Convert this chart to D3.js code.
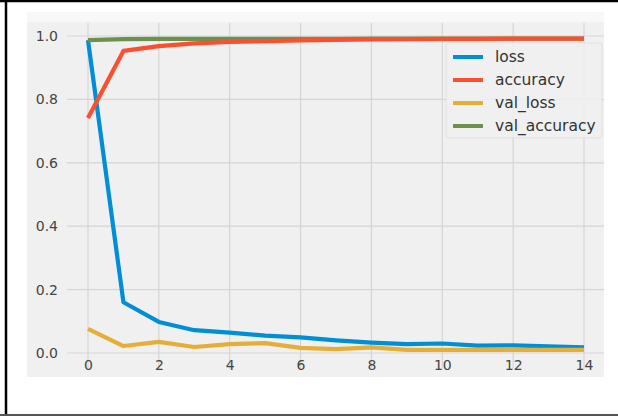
<!DOCTYPE html>
<html>
<head>
<meta charset="utf-8">
<script src="https://cdn.jsdelivr.net/npm/d3@7"></script>
<style>
  body { margin: 0; background: #fff; }
  svg { display: block; font-family: "DejaVu Sans", sans-serif; }
</style>
</head>
<body>
<div id="chart"></div>
<script>
// training history
var epochs = [0, 1, 2, 3, 4, 5, 6, 7, 8, 9, 10, 11, 12, 13, 14];
var loss = [0.987, 0.16, 0.098, 0.072, 0.064, 0.055, 0.049, 0.04, 0.033, 0.028, 0.03, 0.023, 0.024, 0.021, 0.018];
var accuracy = [0.741, 0.953, 0.968, 0.977, 0.981, 0.984, 0.986, 0.988, 0.989, 0.99, 0.991, 0.991, 0.992, 0.992, 0.992];
var valLoss = [0.076, 0.022, 0.035, 0.019, 0.028, 0.031, 0.016, 0.012, 0.018, 0.01, 0.01, 0.01, 0.01, 0.01, 0.01];
var valAccuracy = [0.987, 0.99, 0.991, 0.991, 0.991, 0.991, 0.991, 0.991, 0.992, 0.992, 0.992, 0.992, 0.992, 0.992, 0.992];
var seriesNames = ["loss", "accuracy", "val_loss", "val_accuracy"];
var seriesColors = ["#008fd5", "#fc4f30", "#e5ae38", "#6d904f"];
var xTicks = [0, 2, 4, 6, 8, 10, 12, 14];
var yTicks = [0.0, 0.2, 0.4, 0.6, 0.8, 1.0];

var W = 618, H = 416;
var svg = d3.select("#chart").append("svg")
    .attr("width", W)
    .attr("height", H);

// outer frame of the screenshot
svg.append("rect").attr("x", 0).attr("y", 0).attr("width", W).attr("height", H).attr("fill", "#fff");
svg.append("rect").attr("x", 27).attr("y", 12).attr("width", 577).attr("height", 10).attr("fill", "#f8f8f8");
svg.append("rect").attr("x", 27).attr("y", 22).attr("width", 577).attr("height", 355).attr("fill", "#f0f0f0");
svg.append("line").attr("x1", 0).attr("x2", W).attr("y1", 1).attr("y2", 1).attr("stroke", "#000").attr("stroke-width", 2.5);
svg.append("line").attr("x1", 6).attr("x2", 6).attr("y1", 0).attr("y2", H).attr("stroke", "#000").attr("stroke-width", 2.5);
svg.append("line").attr("x1", 0).attr("x2", W).attr("y1", 415).attr("y2", 415).attr("stroke", "#555").attr("stroke-width", 2);

// scales
var x = d3.scaleLinear().domain([0, 14]).range([88, 584]);
var y = d3.scaleLinear().domain([0, 1]).range([353, 36]);
var plotLeft = 67, plotRight = 604, plotTop = 23, plotBottom = 369;

// grid
var g = svg.append("g");
g.selectAll(".hgrid").data(yTicks).enter().append("line")
    .attr("x1", plotLeft).attr("x2", plotRight)
    .attr("y1", function(d) { return y(d); })
    .attr("y2", function(d) { return y(d); })
    .attr("stroke", "#d5d5d5").attr("stroke-width", 1.2);
g.selectAll(".vgrid").data(xTicks).enter().append("line")
    .attr("x1", function(d) { return x(d); })
    .attr("x2", function(d) { return x(d); })
    .attr("y1", plotTop).attr("y2", plotBottom)
    .attr("stroke", "#d5d5d5").attr("stroke-width", 1.2);

// axes (labels only, no spines)
var yAxis = svg.append("g")
    .attr("transform", "translate(" + plotLeft + ",0)")
    .call(d3.axisLeft(y).tickValues(yTicks).tickFormat(d3.format(".1f")).tickSize(0).tickPadding(9));
var xAxis = svg.append("g")
    .attr("transform", "translate(0," + 358 + ")")
    .call(d3.axisBottom(x).tickValues(xTicks).tickSize(0).tickPadding(2));
[xAxis, yAxis].forEach(function(a) {
    a.select(".domain").remove();
    a.selectAll("text").attr("fill", "#444").style("font-size", "14px").style("font-family", "DejaVu Sans, sans-serif");
});

// lines (val_accuracy sits under accuracy, as in the picture)
var data = [loss, accuracy, valLoss, valAccuracy];
var drawOrder = [0, 2, 3, 1];
var line = d3.line()
    .x(function(d, i) { return x(epochs[i]); })
    .y(function(d) { return y(d); });

svg.selectAll(".series").data(drawOrder).enter().append("path")
    .attr("d", function(k) { return line(data[k]); })
    .attr("fill", "none")
    .attr("stroke", function(k) { return seriesColors[k]; })
    .attr("stroke-width", 4.2)
    .attr("stroke-linejoin", "round");

// legend
var legend = svg.append("g");
legend.append("rect")
    .attr("x", 446).attr("y", 43).attr("width", 156).attr("height", 95)
    .attr("rx", 3)
    .attr("fill", "#f0f0f0").attr("fill-opacity", 0.85)
    .attr("stroke", "#e0e0e0");
var items = legend.selectAll(".item").data(seriesNames).enter().append("g")
    .attr("transform", function(d, i) { return "translate(0," + (57 + i * 23) + ")"; });
items.append("line")
    .attr("x1", 453).attr("x2", 483)
    .attr("stroke", function(d, i) { return seriesColors[i]; })
    .attr("stroke-width", 4);
items.append("text")
    .attr("x", 495).attr("dy", "0.35em")
    .attr("fill", "#333")
    .style("font-size", "15.5px")
    .text(function(d) { return d; });
</script>
</body>
</html>
